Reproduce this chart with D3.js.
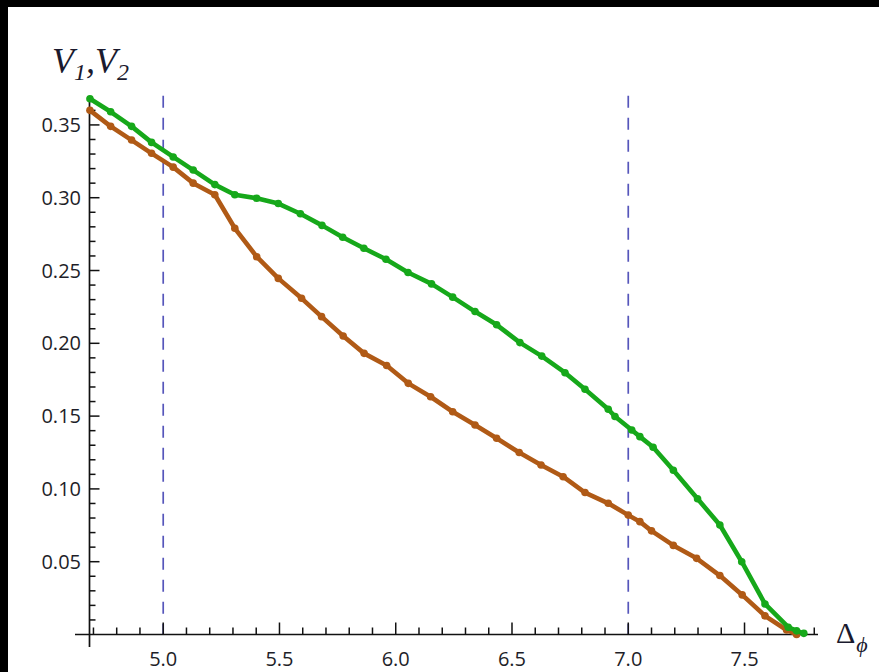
<!DOCTYPE html>
<html>
<head>
<meta charset="utf-8">
<script src="https://cdn.jsdelivr.net/npm/d3@7"></script>
<style>
  html, body { margin: 0; padding: 0; background: #000; }
  svg { display: block; }
</style>
</head>
<body>
<svg id="chart" width="879" height="672"></svg>
<script>
// ---- data ----
const xTickValues = [5.0, 5.5, 6.0, 6.5, 7.0, 7.5];
const xTickLabels = ["5.0", "5.5", "6.0", "6.5", "7.0", "7.5"];
const yTickValues = [0.05, 0.10, 0.15, 0.20, 0.25, 0.30, 0.35];
const yTickLabels = ["0.05", "0.10", "0.15", "0.20", "0.25", "0.30", "0.35"];
const dashedMarkers = [5.0, 7.0];

const greenX = [4.685, 4.774, 4.864, 4.950, 5.043, 5.129, 5.222, 5.308, 5.402, 5.495,
                5.590, 5.683, 5.772, 5.863, 5.958, 6.053, 6.154, 6.245, 6.341, 6.434,
                6.534, 6.628, 6.728, 6.814, 6.914, 6.943, 7.015, 7.050, 7.107, 7.194,
                7.298, 7.394, 7.488, 7.588, 7.688, 7.724, 7.755];
const greenY = [0.368, 0.359, 0.349, 0.338, 0.328, 0.319, 0.309, 0.302, 0.2996, 0.296,
                0.289, 0.2810, 0.2728, 0.2653, 0.2577, 0.2486, 0.2408, 0.2317, 0.2218, 0.2127,
                0.2005, 0.1912, 0.1798, 0.1684, 0.1547, 0.1497, 0.1405, 0.1359, 0.1286, 0.1128,
                0.0932, 0.0752, 0.0500, 0.0210, 0.0050, 0.0025, 0.0008];

const brownX = [4.685, 4.774, 4.864, 4.950, 5.043, 5.129, 5.222, 5.308, 5.402, 5.495,
                5.595, 5.681, 5.774, 5.864, 5.961, 6.054, 6.150, 6.245, 6.341, 6.434,
                6.531, 6.625, 6.720, 6.814, 6.914, 7.000, 7.050, 7.100, 7.194, 7.294,
                7.394, 7.490, 7.588, 7.681, 7.724];
const brownY = [0.360, 0.349, 0.3396, 0.3305, 0.321, 0.310, 0.302, 0.279, 0.2595, 0.2446,
                0.2309, 0.2183, 0.2050, 0.1931, 0.1848, 0.1725, 0.1633, 0.1530, 0.1439, 0.1348,
                0.1250, 0.1164, 0.1084, 0.0975, 0.0901, 0.0820, 0.0775, 0.0712, 0.0612, 0.0523,
                0.0405, 0.0272, 0.0128, 0.0031, 0.0000];

// ---- drawing ----
const svg = d3.select("#chart");
svg.append("rect").attr("x", 8).attr("y", 7).attr("width", 871).attr("height", 665).attr("fill", "#fff");

const x = d3.scaleLinear().domain([4.683, 7.816]).range([89.5, 818]);
const y = d3.scaleLinear().domain([0, 0.37]).range([634.5, 95.8]);

// dashed vertical markers
svg.selectAll("line.marker").data(dashedMarkers).enter().append("line")
  .attr("class", "marker")
  .attr("x1", d => x(d)).attr("x2", d => x(d))
  .attr("y1", y(0.37)).attr("y2", y(0))
  .attr("stroke", "#5656bb").attr("stroke-width", 1.7)
  .attr("stroke-dasharray", "12,10");

// axes lines
const axisColor = "#111";
svg.append("line").attr("x1", 75).attr("x2", x(7.816)).attr("y1", y(0)).attr("y2", y(0))
  .attr("stroke", axisColor).attr("stroke-width", 1.7);
svg.append("line").attr("x1", x(4.683)).attr("x2", x(4.683)).attr("y1", y(0.369)).attr("y2", 647)
  .attr("stroke", axisColor).attr("stroke-width", 1.7);

// x ticks
const xMinor = d3.range(47, 79).map(v => v / 10);
svg.selectAll("line.xt").data(xMinor).enter().append("line")
  .attr("x1", d => x(d)).attr("x2", d => x(d))
  .attr("y1", y(0))
  .attr("y2", d => y(0) - (xTickValues.some(t => Math.abs(t - d) < 1e-6) ? 12 : 7))
  .attr("stroke", axisColor).attr("stroke-width", 1.5);

// y ticks
const yMinor = d3.range(1, 37).map(v => v / 100);
svg.selectAll("line.yt").data(yMinor).enter().append("line")
  .attr("y1", d => y(d)).attr("y2", d => y(d))
  .attr("x1", x(4.683))
  .attr("x2", d => x(4.683) + (yTickValues.some(t => Math.abs(t - d) < 1e-6) ? 10 : 6))
  .attr("stroke", axisColor).attr("stroke-width", 1.5);

// tick labels
const labelFont = "'Open Sans', 'Noto Sans', sans-serif";
svg.selectAll("text.xl").data(xTickValues).enter().append("text")
  .attr("x", d => x(d)).attr("y", 666)
  .attr("text-anchor", "middle")
  .attr("font-family", labelFont).attr("font-size", 20)
  .attr("fill", "#1e1e28")
  .text((d, i) => xTickLabels[i]);

svg.selectAll("text.yl").data(yTickValues).enter().append("text")
  .attr("x", 81).attr("y", d => y(d) + 7)
  .attr("text-anchor", "end")
  .attr("font-family", labelFont).attr("font-size", 20)
  .attr("fill", "#1e1e28")
  .text((d, i) => yTickLabels[i]);

// series
const series = [
  { xs: brownX, ys: brownY, color: "#b05a16" },
  { xs: greenX, ys: greenY, color: "#16a81a" }
];
const line = d3.line().x(d => x(d[0])).y(d => y(d[1]));
series.forEach(s => {
  const pts = s.xs.map((v, i) => [v, s.ys[i]]);
  svg.append("path").datum(pts).attr("d", line)
    .attr("fill", "none").attr("stroke", s.color).attr("stroke-width", 4.6)
    .attr("stroke-linejoin", "round").attr("stroke-linecap", "round");
  svg.append("g").selectAll("circle").data(pts).enter().append("circle")
    .attr("cx", d => x(d[0])).attr("cy", d => y(d[1])).attr("r", 3.8)
    .attr("fill", s.color);
});

// axis labels
const yl = svg.append("text").attr("x", 52).attr("y", 73)
  .attr("font-family", "'Liberation Serif', 'DejaVu Serif', serif")
  .attr("font-style", "italic").attr("font-size", 36).attr("fill", "#1a1a2e");
yl.append("tspan").text("V");
yl.append("tspan").attr("font-size", 24).attr("dy", 7).text("1");
yl.append("tspan").attr("dy", -7).text(",V");
yl.append("tspan").attr("font-size", 24).attr("dy", 7).text("2");

const xl = svg.append("text").attr("x", 836).attr("y", 643)
  .attr("font-family", "'Liberation Serif', 'DejaVu Serif', serif")
  .attr("font-size", 30).attr("fill", "#1a1a2e");
xl.append("tspan").text("Δ");
xl.append("tspan").attr("font-size", 22).attr("font-style", "italic").attr("dy", 9).attr("dx", 1).text("ϕ");
</script>
</body>
</html>
